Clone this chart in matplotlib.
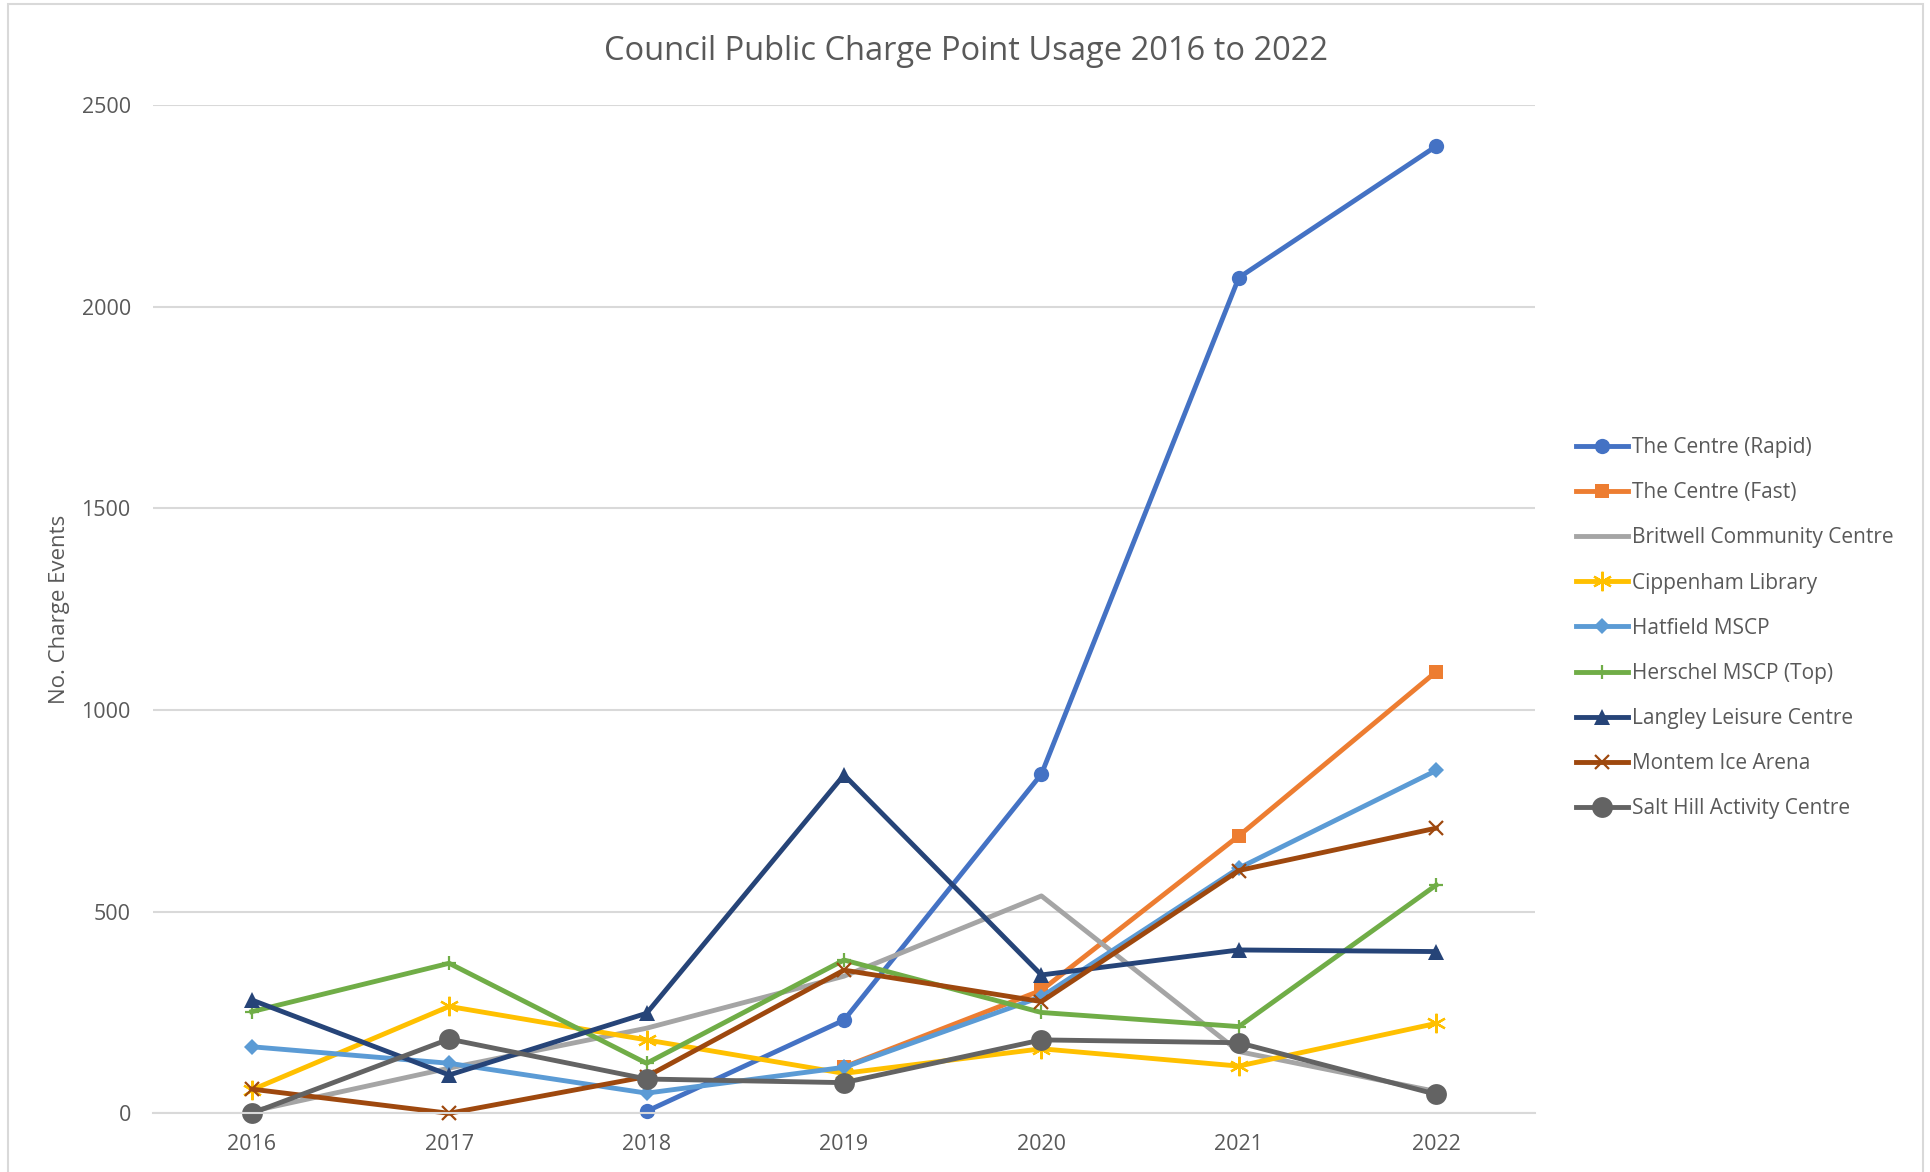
import numpy as np
import matplotlib
matplotlib.use("Agg")
import matplotlib.pyplot as plt
from matplotlib.patches import Rectangle

years = ["2016", "2017", "2018", "2019", "2020", "2021", "2022"]
nan = np.nan
centre_rapid = [nan, nan, 5, 231, 841, 2072, 2398]
centre_fast = [nan, nan, nan, 115, 305, 688, 1095]
britwell = [5, 112, 211, 340, 539, 153, 54]
cippenham = [58, 265, 182, 99, 160, 117, 223]
hatfield = [165, 124, 50, 114, 289, 608, 850]
herschel = [252, 372, 124, 380, 250, 215, 566]
langley = [281, 95, 248, 839, 343, 405, 401]
montem = [60, 0, 91, 355, 277, 602, 707]
salt_hill = [0, 184, 85, 76, 182, 175, 47]

names = ["The Centre (Rapid)", "The Centre (Fast)", "Britwell Community Centre",
         "Cippenham Library", "Hatfield MSCP", "Herschel MSCP (Top)",
         "Langley Leisure Centre", "Montem Ice Arena", "Salt Hill Activity Centre"]

FONT = ["Open Sans", "DejaVu Sans"]
plt.rcParams['font.family'] = FONT
TXT = "#595959"

W, H = 1930, 1172
fig = plt.figure(figsize=(W / 100, H / 100), dpi=100)
ax = fig.add_axes([153 / W, 1 - 1113.3 / H, (1535 - 153) / W, (1113.3 - 105) / H])

x = np.arange(len(years))
lw = 3.5
styles = [
    (centre_rapid, "#4472C4", dict(marker="o", ms=11, mew=0)),
    (centre_fast, "#ED7D31", dict(marker="s", ms=10, mew=0)),
    (britwell, "#A5A5A5", dict(marker="None")),
    (cippenham, "#FFC000", dict(marker=(6, 2, 0), ms=14, mew=1.6)),
    (hatfield, "#5B9BD5", dict(marker="D", ms=8, mew=0)),
    (herschel, "#70AD47", dict(marker="+", ms=10, mew=1.6)),
    (langley, "#264478", dict(marker="^", ms=11, mew=0)),
    (montem, "#9E480E", dict(marker="x", ms=10, mew=1.6)),
    (salt_hill, "#636363", dict(marker="o", ms=15, mew=0)),
]
for (vals, col, kw), name in zip(styles, names):
    ax.plot(x, vals, color=col, lw=lw, label=name, clip_on=False,
            markerfacecolor=col, markeredgecolor=col, solid_joinstyle="round", **kw)

ax.set_xlim(-0.5, len(years) - 0.5)
ax.set_ylim(0, 2500)
ax.set_yticks(np.arange(0, 2501, 500))
ax.set_xticks(x)
ax.set_xticklabels(years)
ax.yaxis.grid(True, color="#D9D9D9", lw=1.5)
ax.set_axisbelow(True)
for s in ["top", "right", "left"]:
    ax.spines[s].set_visible(False)
ax.spines["bottom"].set_color("#D9D9D9")
ax.spines["bottom"].set_linewidth(1.5)
ax.tick_params(axis="both", length=0, labelsize=15.5, labelcolor=TXT)
ax.tick_params(axis="y", pad=16)
ax.tick_params(axis="x", pad=15)

ax.set_ylabel("No. Charge Events", fontsize=16, color=TXT)
ax.yaxis.set_label_coords((70 - 153) / (1535 - 153), 0.5)

fig.text(966 / W, 1 - 52 / H, "Council Public Charge Point Usage 2016 to 2022",
         ha="center", va="center", fontsize=23.5, color=TXT)

leg = ax.legend(loc="upper left", bbox_to_anchor=(1576 / W, 1 - 437 / H),
                bbox_transform=fig.transFigure, frameon=False, fontsize=15,
                handlelength=2.5, handletextpad=0.2, labelspacing=1.16,
                borderaxespad=0, borderpad=0)
for t in leg.get_texts():
    t.set_color(TXT)

fig.add_artist(Rectangle((8 / W, -0.05), (1923 - 8) / W, 1.05 - 4 / H,
                         transform=fig.transFigure, fill=False,
                         ec="#D9D9D9", lw=1.5))

fig.savefig("out.png", dpi=100)
